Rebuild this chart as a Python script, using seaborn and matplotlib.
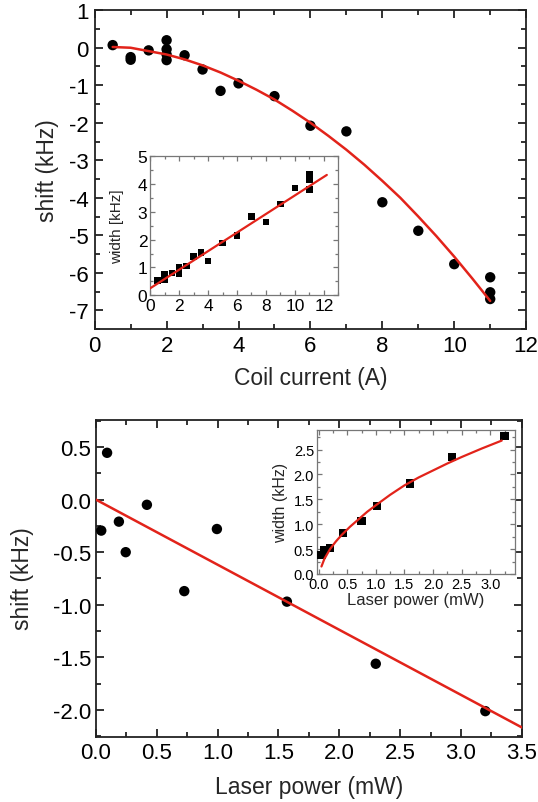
import numpy as np
import pandas as pd
import matplotlib
matplotlib.use("Agg")
import matplotlib.pyplot as plt
from matplotlib.ticker import MultipleLocator, FormatStrFormatter
import seaborn as sns

# ─── Data: shift vs coil current ─────────────────────────────────────────────
coil_current = [0.5, 1, 1, 1.5, 2, 2, 2, 2, 2.5, 3, 3.5, 4, 5, 6, 7, 8, 9, 10, 11, 11, 11]
coil_shift   = [0.07, -0.25, -0.32, -0.07, 0.2, -0.04, -0.18, -0.33, -0.2, -0.58,
                -1.15, -0.95, -1.29, -2.08, -2.23, -4.12, -4.88, -5.77, -6.12, -6.52, -6.7]
coil_fit_x   = [0.5, 1, 1.5, 2, 2.5, 3, 3.5, 4, 4.5, 5, 5.5, 6, 6.5, 7, 7.5, 8,
                8.5, 9, 9.5, 10, 10.5, 11]
coil_fit_y   = [0.02, 0.0, -0.09, -0.18, -0.31, -0.47, -0.66, -0.88, -1.12, -1.38,
                -1.68, -2.0, -2.35, -2.72, -3.12, -3.55, -4.0, -4.5, -5.02, -5.57,
                -6.15, -6.75]

# inset: width vs coil current
coil_w_x     = [0.5, 1, 1, 1.5, 2, 2, 2.5, 3, 3.5, 4, 5, 6, 7, 8, 9, 10, 11, 11, 11]
coil_width   = [0.54, 0.74, 0.56, 0.8, 1.0, 0.78, 1.06, 1.4, 1.54, 1.23, 1.87, 2.14,
                2.83, 2.63, 3.28, 3.85, 4.35, 4.15, 3.8]
coil_wfit_x  = [0.0, 12.2]
coil_wfit_y  = [0.25, 4.32]

# ─── Data: shift vs laser power ──────────────────────────────────────────────
laser_power  = [0.045, 0.093, 0.19, 0.246, 0.42, 0.727, 0.995, 1.57, 2.3, 3.2]
laser_shift  = [-0.295, 0.444, -0.21, -0.5, -0.05, -0.87, -0.28, -0.97, -1.56, -2.01]
laser_fit_x  = [0.0, 3.5]
laser_fit_y  = [0.0, -2.165]

# inset: width vs laser power
laser_w_x    = [0.05, 0.1, 0.2, 0.43, 0.75, 1.02, 1.6, 2.33, 3.25]
laser_width  = [0.38, 0.48, 0.52, 0.82, 1.07, 1.37, 1.82, 2.35, 2.77]
laser_wfit_x = [0.05, 0.1, 0.2, 0.3, 0.4, 0.55, 0.7, 0.85, 1.0, 1.25, 1.5, 1.75,
                2.0, 2.25, 2.5, 2.85, 3.2]
laser_wfit_y = [0.15, 0.3, 0.5, 0.65, 0.78, 0.95, 1.1, 1.25, 1.38, 1.59, 1.78, 1.94,
                2.08, 2.22, 2.35, 2.52, 2.68]

RED = "#e2231a"

sns.set_style("ticks")
plt.rcParams["font.family"] = ["Liberation Sans", "DejaVu Sans"]
plt.rcParams["axes.unicode_minus"] = False


def style_axes(ax, major_x, minor_x, major_y, minor_y, fs, edge, lw, big, pad):
    ax.xaxis.set_major_locator(MultipleLocator(major_x))
    ax.xaxis.set_minor_locator(MultipleLocator(minor_x))
    ax.yaxis.set_major_locator(MultipleLocator(major_y))
    ax.yaxis.set_minor_locator(MultipleLocator(minor_y))
    ax.tick_params(which="both", direction="in", top=True, right=True,
                   labelsize=fs, color=edge, width=lw, pad=pad,
                   labelcolor="black")
    ax.tick_params(which="major", length=big)
    ax.tick_params(which="minor", length=big * 0.55)
    for sp in ax.spines.values():
        sp.set_color(edge)
        sp.set_linewidth(lw)


fig = plt.figure(figsize=(5.38, 8.03), dpi=100)

# ── Top panel ────────────────────────────────────────────────
ax1 = fig.add_axes([0.176, 0.589, 0.802, 0.397])
df1 = pd.DataFrame({"x": coil_current, "y": coil_shift})
sns.scatterplot(data=df1, x="x", y="y", ax=ax1, color="black", s=56,
                edgecolor="none", zorder=3)
sns.lineplot(x=coil_fit_x, y=coil_fit_y, ax=ax1, color=RED, lw=1.8, zorder=4)
ax1.set_xlim(0, 12)
ax1.set_ylim(-7.5, 1)
style_axes(ax1, 2, 1, 1, 0.5, 16, "#222222", 1.3, 6, 4.5)
ax1.set_xlabel("Coil current (A)", fontsize=16.5, labelpad=7)
ax1.set_ylabel("shift (kHz)", fontsize=16.5)
ax1.yaxis.set_label_coords(-0.083, 0.5)

ins1 = fig.add_axes([0.279, 0.631, 0.350, 0.1735])
df1i = pd.DataFrame({"x": coil_w_x, "y": coil_width})
sns.scatterplot(data=df1i, x="x", y="y", ax=ins1, color="black", marker="s",
                s=22, edgecolor="none", zorder=3)
sns.lineplot(x=coil_wfit_x, y=coil_wfit_y, ax=ins1, color=RED, lw=1.6, zorder=4)
ins1.set_xlim(0, 13)
ins1.set_ylim(0, 5)
style_axes(ins1, 2, 1, 1, 0.5, 12.5, "#777777", 0.9, 3.5, 2)
ins1.set_xlabel("")
ins1.set_ylabel("width [kHz]", fontsize=11)
ins1.yaxis.set_label_coords(-0.136, 0.5)

# ── Bottom panel ─────────────────────────────────────────────
ax2 = fig.add_axes([0.178, 0.0813, 0.792, 0.395])
df2 = pd.DataFrame({"x": laser_power, "y": laser_shift})
sns.scatterplot(data=df2, x="x", y="y", ax=ax2, color="black", s=56,
                edgecolor="none", zorder=3)
sns.lineplot(x=laser_fit_x, y=laser_fit_y, ax=ax2, color=RED, lw=1.8, zorder=4)
ax2.set_xlim(0, 3.5)
ax2.set_ylim(-2.253, 0.76)
style_axes(ax2, 0.5, 0.25, 0.5, 0.25, 16, "#222222", 1.3, 6, 3.5)
ax2.xaxis.set_major_formatter(FormatStrFormatter("%.1f"))
ax2.yaxis.set_major_formatter(FormatStrFormatter("%.1f"))
ax2.set_xlabel("Laser power (mW)", fontsize=16.5, labelpad=9)
ax2.set_ylabel("shift (kHz)", fontsize=16.5)
ax2.yaxis.set_label_coords(-0.146, 0.5)

ins2 = fig.add_axes([0.589, 0.284, 0.368, 0.1797])
df2i = pd.DataFrame({"x": laser_w_x, "y": laser_width})
sns.scatterplot(data=df2i, x="x", y="y", ax=ins2, color="black", marker="s",
                s=36, edgecolor="none", zorder=3)
sns.lineplot(x=laser_wfit_x, y=laser_wfit_y, ax=ins2, color=RED, lw=1.6, zorder=4)
ins2.set_xlim(-0.03, 3.43)
ins2.set_ylim(0, 2.9)
style_axes(ins2, 0.5, 0.25, 0.5, 0.25, 10.5, "#777777", 0.9, 3.5, 2)
ins2.xaxis.set_major_formatter(FormatStrFormatter("%.1f"))
ins2.yaxis.set_major_formatter(FormatStrFormatter("%.1f"))
ins2.set_xlabel("Laser power (mW)", fontsize=12, labelpad=1)
ins2.set_ylabel("width (kHz)", fontsize=11.5)
ins2.yaxis.set_label_coords(-0.145, 0.5)

fig.savefig("out.png", dpi=100)
